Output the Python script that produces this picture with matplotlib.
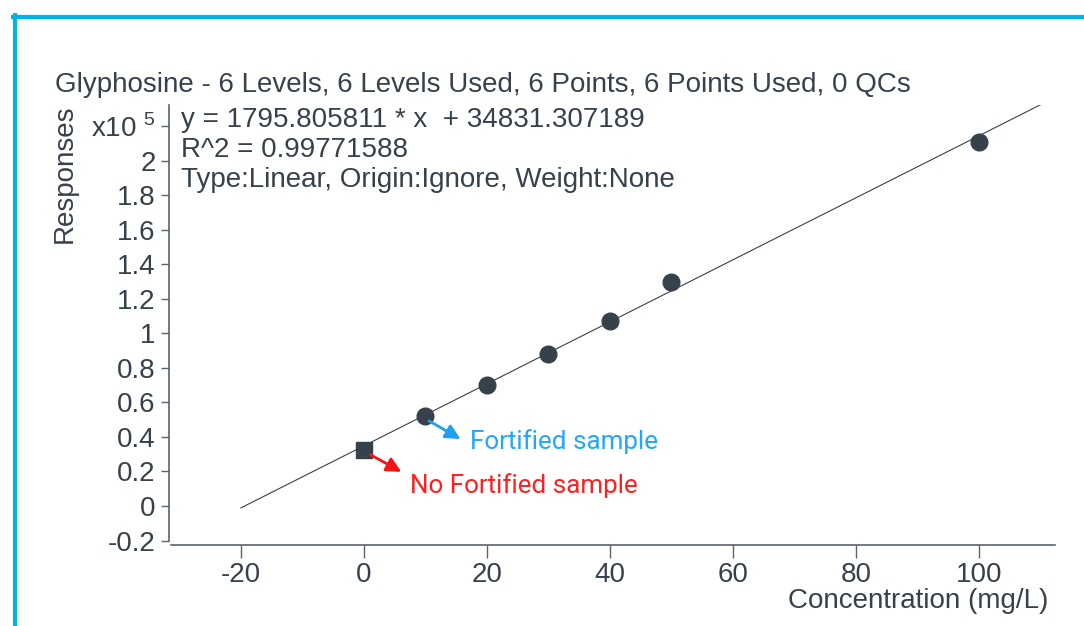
import matplotlib
matplotlib.use("Agg")
import matplotlib.pyplot as plt
from matplotlib.lines import Line2D
import numpy as np

# calibration data (responses in units of 1e5)
conc_std = [10, 20, 30, 40, 50, 100]
resp_std = [0.519, 0.703, 0.882, 1.072, 1.297, 2.11]
conc_blank = [0]
resp_blank = [0.323]
slope = 1795.805811
intercept = 34831.307189
fit_range = [-20, 110.2]
xticks = [-20, 0, 20, 40, 60, 80, 100]
yticks = [-0.2, 0, 0.2, 0.4, 0.6, 0.8, 1, 1.2, 1.4, 1.6, 1.8, 2, 2.2]
ytlabels = ["-0.2", "0", "0.2", "0.4", "0.6", "0.8", "1", "1.2", "1.4", "1.6", "1.8", "2", "x10 $^{5}$"]

dark = "#37414b"
axc = "#5a636c"
fs = 20
plt.rcParams['font.family'] = ['Liberation Sans', 'DejaVu Sans']
plt.rcParams['mathtext.fontset'] = 'custom'
plt.rcParams['mathtext.rm'] = 'Liberation Sans'

fig = plt.figure(figsize=(10.84, 6.26), dpi=100)
ax = fig.add_axes([169/1084., 1-545/626., (1055-169)/1084., (545-105)/626.])

xf = np.array(fit_range)
ax.plot(xf, (slope*xf + intercept)/1e5, color=dark, lw=0.8, zorder=2)
ax.plot(conc_std, resp_std, 'o', color=dark, ms=12, zorder=3)
ax.plot(conc_blank, resp_blank, 's', color=dark, ms=12, zorder=3)

ax.set_xlim(-31.7, 112.4)
ax.set_ylim(-0.226, 2.323)
ax.set_xticks(xticks)
ax.set_xticklabels([str(t) for t in xticks])
ax.set_yticks(yticks)
ax.set_yticklabels(ytlabels)
for s in ['top', 'right']:
  ax.spines[s].set_visible(False)
for s in ['left', 'bottom']:
  ax.spines[s].set_color(axc)
  ax.spines[s].set_linewidth(1.2)
ax.spines['left'].set_bounds(-0.2, 2.323)
ax.spines['bottom'].set_bounds(-31.3, 112.4)
ax.tick_params(axis='y', direction='out', length=6, width=1, color=axc,
               labelsize=fs, labelcolor=dark, pad=3.5)
ax.tick_params(axis='x', direction='out', length=9.5, width=1, color=axc,
               labelsize=fs, labelcolor=dark, pad=3)

fig.text(65/1084., 1-174/626., "Responses", fontsize=fs, color=dark, rotation=90,
         ha='center', va='center')
fig.text(1048/1084., 1-601/626., "Concentration (mg/L)", fontsize=fs, color=dark,
         ha='right', va='center')
fig.text(55/1084., 1-85/626., "Glyphosine - 6 Levels, 6 Levels Used, 6 Points, 6 Points Used, 0 QCs",
         fontsize=fs, color=dark, ha='left', va='center')

eq_lines = ["y = 1795.805811 * x  + 34831.307189",
            "R^2 = 0.99771588",
            "Type:Linear, Origin:Ignore, Weight:None"]
for i, t in enumerate(eq_lines):
  fig.text(181/1084., 1-(120+30*i)/626., t, fontsize=fs, color=dark, ha='left', va='center')

# annotations
ax.annotate("", xy=(16.1, 0.38), xytext=(10.2, 0.501),
            arrowprops=dict(arrowstyle='-|>', color="#1e9ff0", lw=2, mutation_scale=22))
ax.text(17.2, 0.375, "Fortified sample", color="#22a6ff", fontsize=18.7, family='Roboto',
        ha='left', va='center')
ax.annotate("", xy=(6.5, 0.19), xytext=(0.65, 0.305),
            arrowprops=dict(arrowstyle='-|>', color="#f41414", lw=2, mutation_scale=22))
ax.text(7.5, 0.121, "No Fortified sample", color="#ff1f1f", fontsize=18.7, family='Roboto',
        ha='left', va='center')

# blue frame
frame_c = "#00b4e6"
fig.add_artist(Line2D([15/1084., 15/1084.], [0, 1-15/626.], color=frame_c, lw=3, transform=fig.transFigure))
fig.add_artist(Line2D([13/1084., 1.0], [1-17/626., 1-17/626.], color=frame_c, lw=3, transform=fig.transFigure))

fig.savefig("out.png", dpi=100)
